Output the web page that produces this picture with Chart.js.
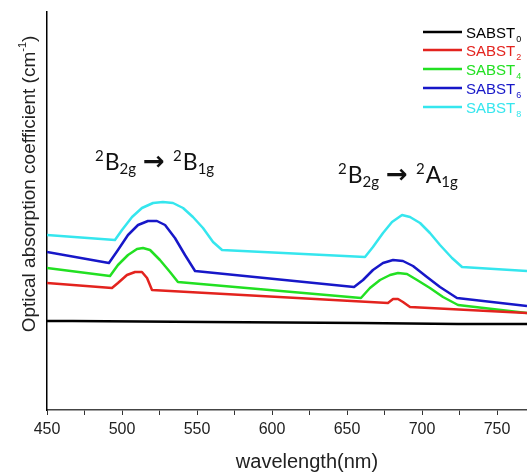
<!DOCTYPE html>
<html>
<head>
<meta charset="utf-8">
<script src="https://cdn.jsdelivr.net/npm/chart.js@4.4.1/dist/chart.umd.min.js"></script>
<style>
  html, body { margin: 0; padding: 0; background: #fff; }
  #wrap { width: 527px; height: 474px; }
</style>
</head>
<body>
<div id="wrap"><canvas id="absChart" width="527" height="474"></canvas></div>
<script>
// wavelength (nm) / absorption (arb. units) for each sample
const wl0 = [450, 467, 557, 659, 724, 770];
const ab0 = [0.89, 0.89, 0.88, 0.87, 0.86, 0.86];

const wl2 = [450, 493.3, 497.3, 503.3, 508.7, 513.3, 516.7, 520, 677.3, 680.7, 684, 687.3, 692, 770];
const ab2 = [1.27, 1.22, 1.27, 1.35, 1.38, 1.38, 1.32, 1.20, 1.07, 1.11, 1.11, 1.08, 1.03, 0.97];

const wl4 = [450, 492, 497.3, 504, 510, 514, 518.7, 525.3, 532, 537.3,
  659.3, 665.3, 672, 678.7, 684, 690, 696.7, 705.3, 714, 724, 770];
const ab4 = [1.42, 1.34, 1.45, 1.55, 1.61, 1.62, 1.60, 1.50, 1.38, 1.28,
  1.12, 1.22, 1.30, 1.35, 1.37, 1.36, 1.30, 1.22, 1.13, 1.05, 0.97];

const wl6 = [450, 491.3, 497.3, 504, 510.7, 517.3, 523.3, 528.7, 535.3, 542, 548.7,
  654.7, 660.7, 667.3, 674, 680.7, 687.3, 694, 703.3, 712, 723.3, 770];
const ab6 = [1.58, 1.47, 1.60, 1.75, 1.85, 1.89, 1.89, 1.85, 1.72, 1.55, 1.39,
  1.23, 1.30, 1.40, 1.47, 1.50, 1.49, 1.44, 1.33, 1.23, 1.12, 1.04];

const wl8 = [450, 495.3, 500, 506.7, 513.3, 520.7, 527.3, 534, 540.7, 547.3, 554, 560.7, 566.7,
  662, 667.3, 674, 680, 686.7, 692, 698.7, 705.3, 712, 720, 726.7, 770];
const ab8 = [1.75, 1.70, 1.80, 1.93, 2.02, 2.07, 2.08, 2.07, 2.02, 1.93, 1.82, 1.68, 1.60,
  1.53, 1.63, 1.77, 1.88, 1.95, 1.93, 1.87, 1.77, 1.65, 1.52, 1.43, 1.39];

const seriesNames = ['SABST', 'SABST', 'SABST', 'SABST', 'SABST'];
const seriesSubs = ['0', '2', '4', '6', '8'];
const seriesColors = ['#000000', '#e3231e', '#22e022', '#1717c8', '#35e6ee'];

const xTicks = [450, 475, 500, 525, 550, 575, 600, 625, 650, 675, 700, 725, 750];
const xTitle = 'wavelength(nm)';
const yTitle = 'Optical absorption coefficient (cm';

function pts(xs, ys) {
  return xs.map((x, i) => ({ x: x, y: ys[i] }));
}

const allSeries = [[wl0, ab0], [wl2, ab2], [wl4, ab4], [wl6, ab6], [wl8, ab8]];

const datasets = allSeries.map((s, i) => ({
  label: seriesNames[i] + seriesSubs[i],
  data: pts(s[0], s[1]),
  borderColor: seriesColors[i],
  borderWidth: 2.5,
  borderJoinStyle: 'round',
  pointRadius: 0,
  tension: 0,
  fill: false
}));

const sans = '"Liberation Sans", Arial, sans-serif';
const label = 'Lato, Carlito, sans-serif';

// each piece: [text, font, x, y]
function drawPieces(ctx, pieces, color) {
  ctx.fillStyle = color;
  ctx.textBaseline = 'alphabetic';
  ctx.textAlign = 'left';
  pieces.forEach(p => {
    ctx.font = p[1];
    ctx.fillText(p[0], p[2], p[3]);
  });
}

function transition(ctx, x, y, from, fromSub, to, toSub) {
  const big = '23px ' + label, small = '15px ' + label;
  ctx.font = small;
  const w2 = ctx.measureText('2').width;
  ctx.font = big;
  const wf = ctx.measureText(from).width;
  const wt = ctx.measureText(to).width;
  ctx.font = small;
  const wfs = ctx.measureText(fromSub).width;
  const ax = x + w2 + 1 + wf + wfs + 7;
  drawPieces(ctx, [
    ['2', small, x, y - 9],
    [from, big, x + w2 + 1, y],
    [fromSub, small, x + w2 + 1 + wf, y + 4],
    ['\u2192', 'bold 26px "DejaVu Sans", sans-serif', ax, y],
    ['2', small, ax + 30, y - 9],
    [to, big, ax + 30 + w2 + 1, y],
    [toSub, small, ax + 30 + w2 + 1 + wt, y + 4]
  ], '#111');
}

const extras = {
  id: 'extras',
  afterDraw(chart) {
    const ctx = chart.ctx;
    ctx.save();

    // legend
    const rows = [32, 50, 69, 88, 107];
    seriesColors.forEach((c, i) => {
      ctx.strokeStyle = c;
      ctx.lineWidth = 2.5;
      ctx.beginPath();
      ctx.moveTo(423, rows[i]);
      ctx.lineTo(462, rows[i]);
      ctx.stroke();
      ctx.font = '15px ' + sans;
      const w = ctx.measureText(seriesNames[i]).width;
      drawPieces(ctx, [
        [seriesNames[i], '15px ' + sans, 466, rows[i] + 6],
        [seriesSubs[i], '9px ' + sans, 466 + w + 1, rows[i] + 10]
      ], c);
    });

    // transition labels
    transition(ctx, 95, 170, 'B', '2g', 'B', '1g');
    transition(ctx, 338, 183, 'B', '2g', 'A', '1g');

    // axis titles
    ctx.fillStyle = '#222';
    ctx.font = '20px ' + sans;
    ctx.textAlign = 'center';
    ctx.textBaseline = 'alphabetic';
    ctx.fillText(xTitle, 307, 468);

    ctx.translate(35, 184);
    ctx.rotate(-Math.PI / 2);
    ctx.font = '19px ' + sans;
    const w1 = ctx.measureText(yTitle).width;
    const w3 = ctx.measureText(')').width;
    ctx.font = '11px ' + sans;
    const w2 = ctx.measureText('-1').width;
    const x0 = -(w1 + w2 + w3) / 2;
    drawPieces(ctx, [
      [yTitle, '19px ' + sans, x0, 0],
      ['-1', '11px ' + sans, x0 + w1, -9],
      [')', '19px ' + sans, x0 + w1 + w2, 0]
    ], '#222');

    ctx.restore();
  }
};

const ctx = document.getElementById('absChart').getContext('2d');
new Chart(ctx, {
  type: 'line',
  data: { datasets: datasets },
  options: {
    responsive: false,
    animation: false,
    layout: { padding: { top: 12, right: 0, left: 0, bottom: 0 } },
    plugins: {
      legend: { display: false },
      tooltip: { enabled: false }
    },
    scales: {
      x: {
        type: 'linear',
        min: 450,
        max: 770,
        afterBuildTicks: axis => { axis.ticks = xTicks.map(v => ({ value: v })); },
        grid: {
          drawOnChartArea: false,
          drawTicks: true,
          tickLength: 5,
          tickColor: '#333'
        },
        border: { color: '#444', width: 1.5 },
        ticks: {
          autoSkip: false,
          maxRotation: 0,
          padding: 5,
          color: '#222',
          font: { family: sans, size: 16 },
          callback: v => (v % 50 === 0 ? v : '')
        },
        afterFit: s => { s.height = 64; }
      },
      y: {
        min: 0,
        max: 3.98,
        grid: { drawOnChartArea: false, drawTicks: false },
        border: { color: '#000', width: 1.5 },
        ticks: { display: false },
        afterFit: s => { s.width = 47; }
      }
    }
  },
  plugins: [extras]
});
</script>
</body>
</html>
